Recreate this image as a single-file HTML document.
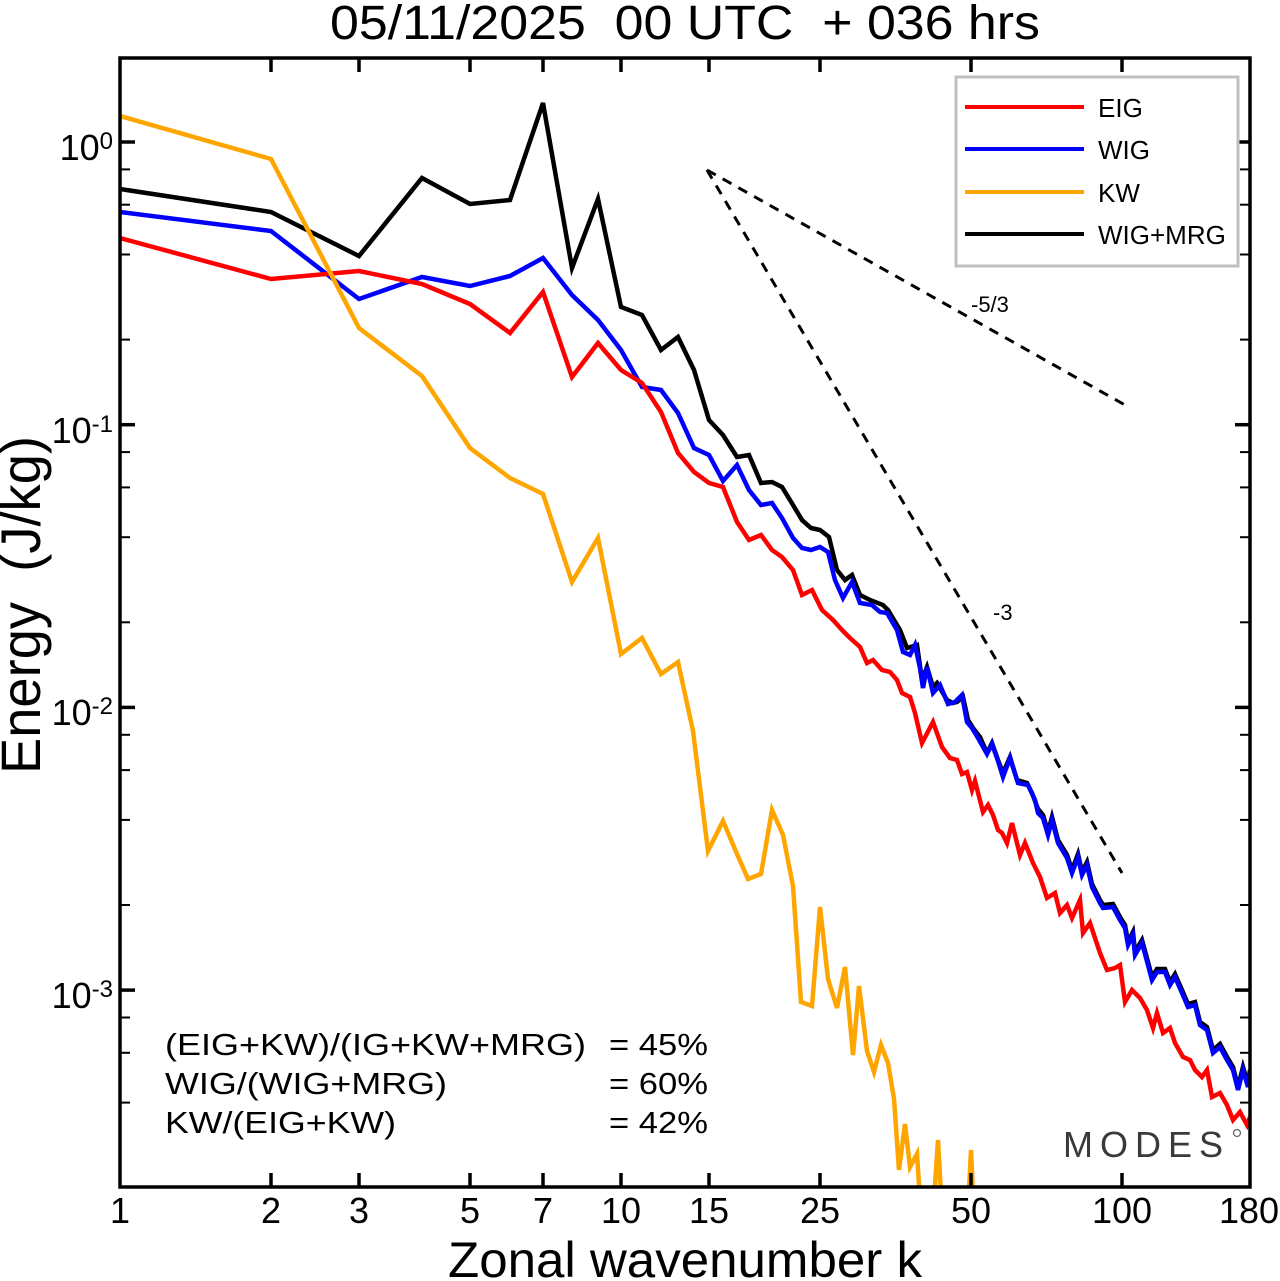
<!DOCTYPE html>
<html>
<head>
<meta charset="utf-8">
<style>
  html, body { margin: 0; padding: 0; background: #ffffff; }
  svg { display: block; }
  text { font-family: "Liberation Sans", Arial, sans-serif; fill: #000; }
</style>
</head>
<body>
<svg width="1280" height="1281" viewBox="0 0 1280 1281" xmlns="http://www.w3.org/2000/svg">
  <rect x="0" y="0" width="1280" height="1281" fill="#ffffff"/>
  <defs>
    <clipPath id="plot">
      <rect x="120" y="58" width="1130" height="1129"/>
    </clipPath>
  </defs>

  <!-- Title -->
  <text x="330" y="39" font-size="48" textLength="710" lengthAdjust="spacingAndGlyphs" style="white-space:pre">05/11/2025  00 UTC  + 036 hrs</text>

  <!-- Series -->
  <g clip-path="url(#plot)" fill="none" stroke-width="4.5" stroke-linejoin="miter" stroke-miterlimit="4">
    <polyline stroke="#000000" points="120,189 271,212 359,256 422,178 470,204 510,200 543,103 572,268 598,199 621,307 642,315 661,350 678,337 694,370 709,420 723,435 737,457 749,455 761,483 772,482 782,487 793,505 802,520 811,528 820,530 829,537 837,570 845,580 852,575 860,595 870,600 883,605 888,610 900,630 907,648 917,645 922,680 927,667 933,687 937,683 947,700 953,703 957,702 963,697 968,720 973,728 980,737 987,753 992,743 998,760 1003,773 1010,757 1017,780 1027,783 1032,793 1038,809 1043,815 1048,832 1052,817 1058,840 1067,855 1072,870 1078,854 1082,872 1087,862 1092,884 1100,900 1103,905 1113,904 1120,917 1125,925 1128,942 1133,932 1135,952 1142,940 1148,962 1152,977 1157,969 1165,969 1170,982 1175,974 1182,990 1188,1004 1195,1002 1200,1022 1207,1027 1213,1050 1220,1044 1227,1057 1233,1067 1238,1087 1243,1067 1248,1084 1250,1070"/>
    <polyline stroke="#0000ff" points="120,212 271,231 359,299 422,277 470,286 510,276 543,258 572,295 598,320 621,350 642,387 661,390 678,413 694,448 709,455 723,481 737,465 749,490 761,505 772,503 782,518 793,538 802,548 811,550 820,547 828,552 835,580 843,598 852,582 860,603 872,605 880,612 887,613 897,630 903,652 910,655 915,645 920,668 923,688 927,667 933,693 940,685 948,704 955,702 962,695 967,722 972,728 978,738 987,754 992,744 998,761 1003,777 1010,758 1018,783 1028,785 1035,800 1038,813 1043,818 1048,835 1052,820 1058,843 1067,858 1072,873 1078,857 1082,875 1087,865 1092,887 1100,903 1103,908 1113,907 1120,920 1125,928 1128,945 1133,935 1135,955 1142,943 1148,965 1152,980 1157,972 1165,972 1170,985 1175,977 1182,993 1188,1007 1195,1005 1200,1025 1207,1030 1213,1053 1220,1047 1227,1060 1233,1070 1238,1090 1243,1070 1248,1087 1250,1073"/>
    <polyline stroke="#ff0000" points="120,238 271,279 359,271 422,284 470,304 510,333 543,292 572,377 598,343 621,370 642,383 661,412 678,453 694,472 709,483 723,487 737,522 749,540 761,535 772,550 782,557 793,570 802,595 812,590 822,610 833,620 842,630 850,638 860,647 867,663 873,660 882,670 890,672 897,680 902,693 910,697 915,713 922,743 933,722 942,747 950,758 957,760 962,774 967,772 972,790 975,781 983,812 988,805 993,815 998,830 1002,833 1007,843 1012,823 1020,855 1025,843 1033,863 1040,877 1047,898 1055,893 1060,913 1067,905 1072,918 1080,900 1083,933 1090,923 1100,953 1107,970 1115,968 1120,965 1125,1002 1132,990 1140,998 1147,1010 1153,1028 1157,1013 1163,1033 1170,1028 1175,1043 1183,1057 1190,1060 1195,1070 1202,1077 1207,1070 1212,1097 1220,1093 1227,1105 1233,1120 1240,1112 1247,1125 1250,1117"/>
    <polyline stroke="#ffa500" points="120,116 271,159 359,328 422,376 470,448 510,478 543,494 572,582 598,538 621,654 642,638 661,674 678,662 693,731 708,851 723,821 737,854 748,879 761,874 772,810 783,835 793,886 801,1002 812,1006 820,907 828,979 837,1008 845,967 853,1055 859,986 867,1051 874,1072 881,1045 888,1063 894,1099 899,1170 905,1124 910,1167 917,1154 922,1230 928,1240 933,1215 938,1140 943,1230 948,1250 955,1270 962,1250 967,1230 971,1150 975,1240 990,1290"/>
  </g>

  <!-- Reference slope lines -->
  <g stroke="#000" stroke-width="3" stroke-dasharray="10 8" fill="none">
    <line x1="707" y1="170" x2="1125" y2="405"/>
    <line x1="707" y1="170" x2="1122" y2="873"/>
  </g>
  <text x="971" y="312" font-size="22">-5/3</text>
  <text x="993" y="620" font-size="22">-3</text>

  <!-- Frame -->
  <rect x="120" y="58" width="1130" height="1129" fill="none" stroke="#000" stroke-width="3.5"/>

  <!-- X ticks (bottom and top) -->
  <g stroke="#000" stroke-width="3.5">
    <line x1="271" y1="1187" x2="271" y2="1173"/><line x1="271" y1="58" x2="271" y2="72"/>
    <line x1="359" y1="1187" x2="359" y2="1173"/><line x1="359" y1="58" x2="359" y2="72"/>
    <line x1="470" y1="1187" x2="470" y2="1173"/><line x1="470" y1="58" x2="470" y2="72"/>
    <line x1="543" y1="1187" x2="543" y2="1173"/><line x1="543" y1="58" x2="543" y2="72"/>
    <line x1="621" y1="1187" x2="621" y2="1173"/><line x1="621" y1="58" x2="621" y2="72"/>
    <line x1="709" y1="1187" x2="709" y2="1173"/><line x1="709" y1="58" x2="709" y2="72"/>
    <line x1="820" y1="1187" x2="820" y2="1173"/><line x1="820" y1="58" x2="820" y2="72"/>
    <line x1="971" y1="1187" x2="971" y2="1173"/><line x1="971" y1="58" x2="971" y2="72"/>
    <line x1="1122" y1="1187" x2="1122" y2="1173"/><line x1="1122" y1="58" x2="1122" y2="72"/>
  </g>

  <!-- Y ticks major (left and right) -->
  <g stroke="#000" stroke-width="3.5">
    <line x1="120" y1="142" x2="135" y2="142"/><line x1="1250" y1="142" x2="1235" y2="142"/>
    <line x1="120" y1="424.7" x2="135" y2="424.7"/><line x1="1250" y1="424.7" x2="1235" y2="424.7"/>
    <line x1="120" y1="707.4" x2="135" y2="707.4"/><line x1="1250" y1="707.4" x2="1235" y2="707.4"/>
    <line x1="120" y1="990.1" x2="135" y2="990.1"/><line x1="1250" y1="990.1" x2="1235" y2="990.1"/>
  </g>
  <!-- Y ticks minor -->
  <g stroke="#000" stroke-width="2">
    <line x1="120" y1="169.4" x2="130" y2="169.4"/><line x1="1250" y1="169.4" x2="1240" y2="169.4"/>
    <line x1="120" y1="204.7" x2="130" y2="204.7"/><line x1="1250" y1="204.7" x2="1240" y2="204.7"/>
    <line x1="120" y1="254.5" x2="130" y2="254.5"/><line x1="1250" y1="254.5" x2="1240" y2="254.5"/>
    <line x1="120" y1="339.6" x2="130" y2="339.6"/><line x1="1250" y1="339.6" x2="1240" y2="339.6"/>
    <line x1="120" y1="452.1" x2="130" y2="452.1"/><line x1="1250" y1="452.1" x2="1240" y2="452.1"/>
    <line x1="120" y1="487.4" x2="130" y2="487.4"/><line x1="1250" y1="487.4" x2="1240" y2="487.4"/>
    <line x1="120" y1="537.2" x2="130" y2="537.2"/><line x1="1250" y1="537.2" x2="1240" y2="537.2"/>
    <line x1="120" y1="622.3" x2="130" y2="622.3"/><line x1="1250" y1="622.3" x2="1240" y2="622.3"/>
    <line x1="120" y1="734.8" x2="130" y2="734.8"/><line x1="1250" y1="734.8" x2="1240" y2="734.8"/>
    <line x1="120" y1="770.1" x2="130" y2="770.1"/><line x1="1250" y1="770.1" x2="1240" y2="770.1"/>
    <line x1="120" y1="819.9" x2="130" y2="819.9"/><line x1="1250" y1="819.9" x2="1240" y2="819.9"/>
    <line x1="120" y1="905" x2="130" y2="905"/><line x1="1250" y1="905" x2="1240" y2="905"/>
    <line x1="120" y1="1017.5" x2="130" y2="1017.5"/><line x1="1250" y1="1017.5" x2="1240" y2="1017.5"/>
    <line x1="120" y1="1052.8" x2="130" y2="1052.8"/><line x1="1250" y1="1052.8" x2="1240" y2="1052.8"/>
    <line x1="120" y1="1102.6" x2="130" y2="1102.6"/><line x1="1250" y1="1102.6" x2="1240" y2="1102.6"/>
  </g>

  <!-- Y tick labels -->
  <g font-size="36" text-anchor="end">
    <text x="113" y="160">10<tspan font-size="24" dy="-11">0</tspan></text>
    <text x="113" y="443">10<tspan font-size="24" dy="-11">-1</tspan></text>
    <text x="113" y="725">10<tspan font-size="24" dy="-11">-2</tspan></text>
    <text x="113" y="1008">10<tspan font-size="24" dy="-11">-3</tspan></text>
  </g>

  <!-- X tick labels -->
  <g font-size="36" text-anchor="middle">
    <text x="120" y="1223">1</text>
    <text x="271" y="1223">2</text>
    <text x="359" y="1223">3</text>
    <text x="470" y="1223">5</text>
    <text x="543" y="1223">7</text>
    <text x="621" y="1223">10</text>
    <text x="709" y="1223">15</text>
    <text x="820" y="1223">25</text>
    <text x="971" y="1223">50</text>
    <text x="1122" y="1223">100</text>
    <text x="1249" y="1223">180</text>
  </g>

  <!-- Axis titles -->
  <text x="448" y="1277" font-size="50" textLength="474" lengthAdjust="spacingAndGlyphs">Zonal wavenumber k</text>
  <text transform="translate(40,774) rotate(-90)" x="0" y="0" font-size="56" textLength="338" lengthAdjust="spacingAndGlyphs" style="white-space:pre">Energy  (J/kg)</text>

  <!-- Legend -->
  <rect x="956" y="77" width="282" height="189" fill="#ffffff" stroke="#c0c0c0" stroke-width="3"/>
  <g stroke-width="4">
    <line x1="965" y1="107" x2="1084" y2="107" stroke="#ff0000"/>
    <line x1="965" y1="149" x2="1084" y2="149" stroke="#0000ff"/>
    <line x1="965" y1="192" x2="1084" y2="192" stroke="#ffa500"/>
    <line x1="965" y1="234" x2="1084" y2="234" stroke="#000000"/>
  </g>
  <g font-size="26">
    <text x="1098" y="117">EIG</text>
    <text x="1098" y="159">WIG</text>
    <text x="1098" y="202">KW</text>
    <text x="1098" y="244">WIG+MRG</text>
  </g>

  <!-- Ratio text -->
  <g font-size="31">
    <text x="165" y="1055" textLength="421" lengthAdjust="spacingAndGlyphs">(EIG+KW)/(IG+KW+MRG)</text>
    <text x="165" y="1094" textLength="282" lengthAdjust="spacingAndGlyphs">WIG/(WIG+MRG)</text>
    <text x="165" y="1133" textLength="231" lengthAdjust="spacingAndGlyphs">KW/(EIG+KW)</text>
    <text x="609" y="1055" textLength="99" lengthAdjust="spacingAndGlyphs">= 45%</text>
    <text x="609" y="1094" textLength="99" lengthAdjust="spacingAndGlyphs">= 60%</text>
    <text x="609" y="1133" textLength="99" lengthAdjust="spacingAndGlyphs">= 42%</text>
  </g>

  <!-- MODES logo -->
  <text x="1063" y="1157" font-size="36" style="fill:#3a3a3a" textLength="160" lengthAdjust="spacing">MODES</text>
  <circle cx="1237" cy="1133" r="3.5" fill="none" stroke="#666" stroke-width="1.3"/>
</svg>
</body>
</html>
